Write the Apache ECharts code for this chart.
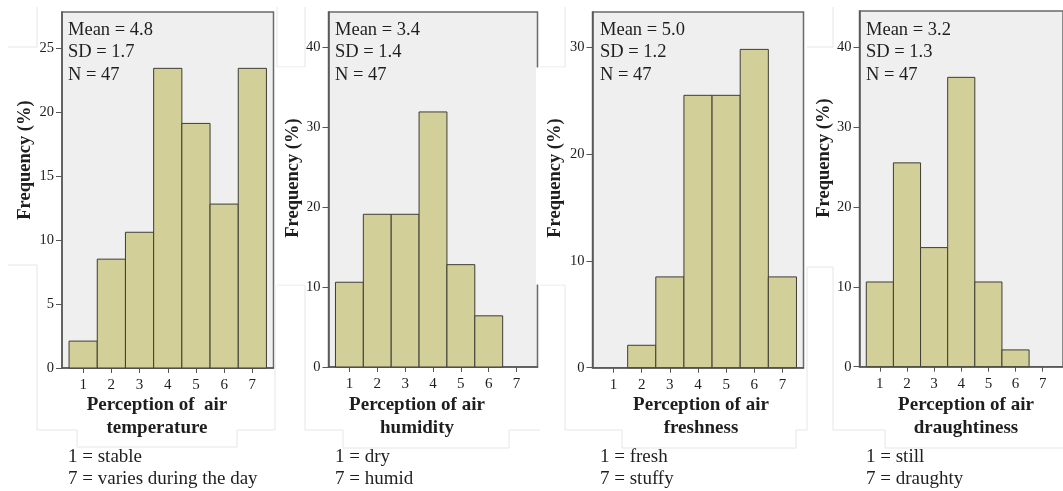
<!DOCTYPE html>
<html><head><meta charset="utf-8">
<script src="https://cdn.jsdelivr.net/npm/echarts@6/dist/echarts.min.js"></script>
<style>html,body{margin:0;padding:0;background:#fff}#c{width:1063px;height:491px}</style>
</head><body><div id="c"></div>
<script>
// ---- data ----
const categories = [1, 2, 3, 4, 5, 6, 7];
const temperaturePct = [2.1, 8.5, 10.6, 23.4, 19.1, 12.8, 23.4];
const humidityPct = [10.6, 19.1, 19.1, 31.9, 12.8, 6.4, 0];
const freshnessPct = [0, 2.1, 8.5, 25.5, 25.5, 29.8, 8.5];
const draughtPct = [10.6, 25.5, 14.9, 36.2, 10.6, 2.1, 0];
const yTicks1 = [0, 5, 10, 15, 20, 25];
const yTicks2 = [0, 10, 20, 30, 40];
const yTicks3 = [0, 10, 20, 30];
const yTicks4 = [0, 10, 20, 30, 40];
const yMaxes = [27.8, 44.4, 33.3, 44.5];
const statsLines = [
  ['Mean = 4.8', 'SD = 1.7', 'N = 47'],
  ['Mean = 3.4', 'SD = 1.4', 'N = 47'],
  ['Mean = 5.0', 'SD = 1.2', 'N = 47'],
  ['Mean = 3.2', 'SD = 1.3', 'N = 47']
];
const xTitles = [
  ['Perception of  air', 'temperature'],
  ['Perception of air', 'humidity'],
  ['Perception of air', 'freshness'],
  ['Perception of air', 'draughtiness']
];
const scaleNotes = [
  ['1 = stable', '7 = varies during the day'],
  ['1 = dry', '7 = humid'],
  ['1 = fresh', '7 = stuffy'],
  ['1 = still', '7 = draughty']
];
const yTitle = 'Frequency (%)';

// ---- layout ----
const grids = [
  {left: 62, top: 12, width: 211.5, height: 356},
  {left: 328.5, top: 12, width: 209, height: 355},
  {left: 592.5, top: 12, width: 211, height: 355.7},
  {left: 859.5, top: 11, width: 211, height: 355.7}
];
const seriesData = [temperaturePct, humidityPct, freshnessPct, draughtPct];
const yTicksAll = [yTicks1, yTicks2, yTicks3, yTicks4];
const serif = '"Liberation Serif", "Times New Roman", serif';
const ink = '#1e1e1e';

const chart = echarts.init(document.getElementById('c'), null, {renderer: 'canvas'});

function renderBar(params, api) {
  const x = api.value(0), y = api.value(1);
  if (!y) return null;
  const p0 = api.coord([x - 0.5, y]);
  const p1 = api.coord([x + 0.5, 0]);
  return {
    type: 'rect',
    shape: {x: p0[0], y: p0[1], width: p1[0] - p0[0], height: p1[1] - p0[1]},
    style: {fill: '#D3CF98', stroke: '#3d3d35', lineWidth: 1}
  };
}

const xAxes = [], yAxes = [], series = [];
grids.forEach((g, i) => {
  xAxes.push({
    gridIndex: i, type: 'value', min: 0.25, max: 7.75,
    axisLine: {show: true, lineStyle: {color: '#555', width: 1.5}},
    axisTick: {show: true, customValues: categories, length: 5, lineStyle: {color: '#555'}},
    axisLabel: {customValues: categories, fontFamily: serif, fontSize: 15, color: ink, margin: 10},
    splitLine: {show: false}
  });
  yAxes.push({
    gridIndex: i, type: 'value', min: 0, max: yMaxes[i],
    axisLine: {show: true, lineStyle: {color: '#555', width: 1.5}},
    axisTick: {show: true, customValues: yTicksAll[i], length: 6, lineStyle: {color: '#555'}},
    axisLabel: {customValues: yTicksAll[i], fontFamily: serif, fontSize: 14.5, color: ink, margin: 8},
    splitLine: {show: false}
  });
  series.push({
    type: 'custom', xAxisIndex: i, yAxisIndex: i,
    data: categories.map((c, k) => [c, seriesData[i][k]]),
    renderItem: renderBar, z: 3
  });
});

const graphics = [];
// faint collage outlines
const faint = [
  [[37,7],[37,47],[8,47]],
  [[8,265],[37,265],[37,430],[77,430],[77,447],[237,447],[237,430],[275,430],[275,285]],
  [[277,7],[277,67],[305,67],[305,7]],
  [[277,285],[305,285],[305,430],[343,430],[343,448],[509,448],[509,430],[540,430]],
  [[540,67],[565,67],[565,7]],
  [[540,285],[565,285],[565,430],[622,430],[622,448],[796,448],[796,430],[807,430],[807,267],[833,267],[833,430],[885,430],[885,448],[1063,448]],
  [[807,47],[833,47],[833,7]]
];
faint.forEach(pts => graphics.push({type: 'polyline', shape: {points: pts}, style: {stroke: '#e6e6e6', lineWidth: 1, fill: null}, z: 1}));
// overlapping white patches of the collage
graphics.push({type: 'rect', shape: {x: 277.5, y: 67.5, width: 30, height: 217}, style: {fill: '#fff'}, z: 50});
graphics.push({type: 'rect', shape: {x: 536, y: 67.5, width: 28.5, height: 217}, style: {fill: '#fff'}, z: 50});

const yTitleX = [25.5, 293, 555, 824];
const yTitleY = [160, 178, 178, 158];
const xTitleX = [157, 417, 701, 966];
const statX = [68, 335, 600, 866];
grids.forEach((g, i) => {
  graphics.push({type: 'text', x: yTitleX[i], y: yTitleY[i], rotation: Math.PI / 2, z: 60,
    style: {text: yTitle, font: 'bold 18.5px ' + serif, fill: ink, textAlign: 'center', textVerticalAlign: 'middle'}});
  statsLines[i].forEach((t, k) => graphics.push({type: 'text', x: statX[i], y: 30 + k * 22.5, z: 60,
    style: {text: t, font: '18.5px ' + serif, fill: ink, textAlign: 'left', textVerticalAlign: 'middle'}}));
  xTitles[i].forEach((t, k) => graphics.push({type: 'text', x: xTitleX[i], y: 405 + k * 23, z: 60,
    style: {text: t, font: 'bold 19px ' + serif, fill: ink, textAlign: 'center', textVerticalAlign: 'middle'}}));
  scaleNotes[i].forEach((t, k) => graphics.push({type: 'text', x: statX[i], y: 457 + k * 22.5, z: 60,
    style: {text: t, font: '19px ' + serif, fill: ink, textAlign: 'left', textVerticalAlign: 'middle'}}));
});

chart.setOption({
  backgroundColor: '#fff',
  animation: false,
  grid: grids.map(g => Object.assign({show: true, backgroundColor: '#EFEFEF', borderColor: '#6a6a6a', borderWidth: 1.5}, g)),
  xAxis: xAxes,
  yAxis: yAxes,
  series: series,
  graphic: graphics
});
</script></body></html>
